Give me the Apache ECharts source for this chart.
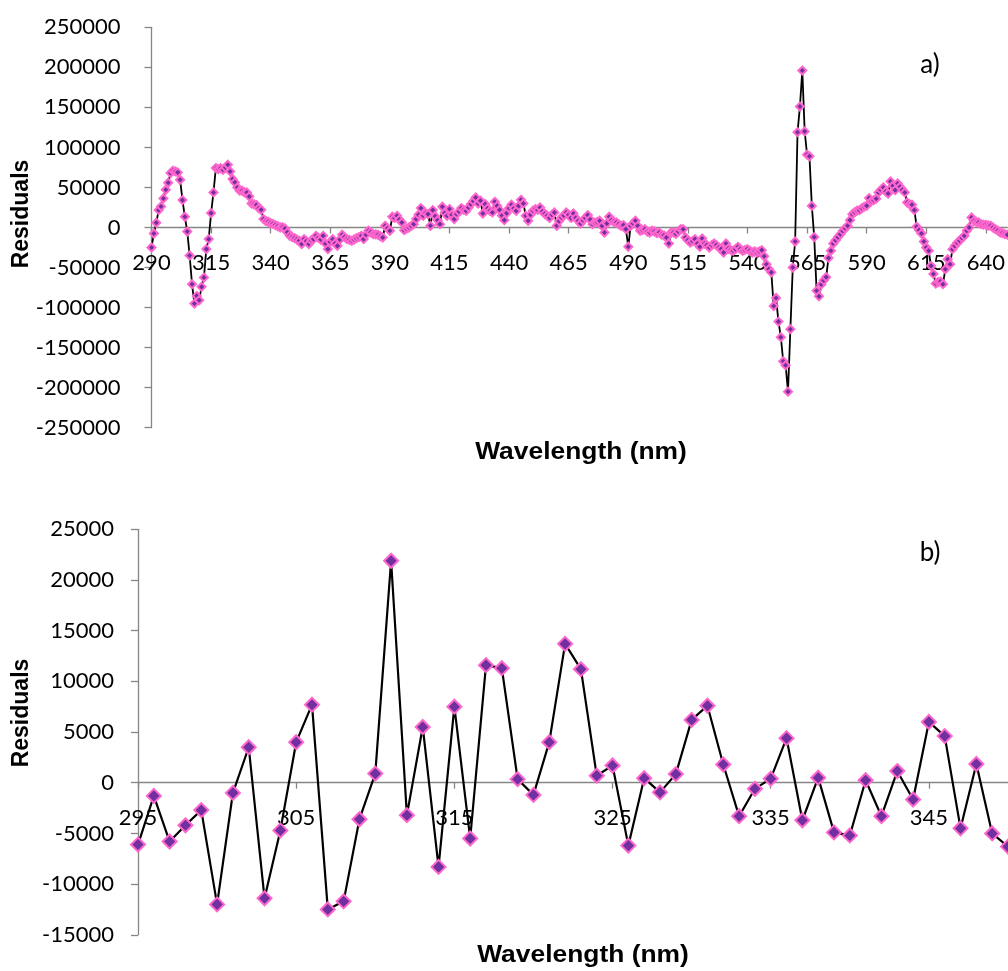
<!DOCTYPE html>
<html>
<head>
<meta charset="utf-8">
<script src="https://cdn.jsdelivr.net/npm/echarts@6/dist/echarts.min.js"></script>
<style>html,body{margin:0;padding:0;background:#fff;}#c{width:1008px;height:971px;}</style>
</head>
<body>
<div id="c"></div>
<script>
// ---- Panel a) : wavelengths 290..649 nm, 1 nm step ----
var wavelengthsA = [];
for (var w = 290; w <= 649; w++) wavelengthsA.push(String(w));
var residualsA = [
-25000,-7500,5900,21700,26300,36300,47100,55900,68000,71000,
70000,68800,59600,34200,13400,-5000,-35000,-70800,-95000,-85400,
-90800,-74100,-62500,-27000,-14500,18000,43800,74200,73000,74000,
72100,75000,78400,70000,60500,56300,50000,46000,45900,44000,
43800,38800,30000,29000,28000,24000,22100,10500,8000,7100,
5500,4500,3000,1500,0,500,-1200,-6000,-10400,-12000,
-13200,-15000,-16600,-20700,-14500,-17000,-20700,-16000,-14500,-10400,
-13000,-15000,-10400,-20000,-27000,-18000,-14600,-20000,-22900,-15000,
-9100,-12000,-14500,-15500,-16600,-15000,-13300,-12000,-10400,-14500,
-9000,-4100,-6000,-8300,-8500,-9100,-11000,-12500,2100,-1000,
-4100,13400,12000,14600,10000,6300,-3300,-1500,0,2000,
4200,10500,16000,24200,14600,18000,16700,2100,21700,14000,
9000,4200,25900,18000,14600,23000,16000,10500,16700,20000,
24200,22000,20800,25000,29200,33000,37500,30000,33400,17500,
29200,24000,20800,18800,32100,27000,22000,15000,9200,18000,
24000,28400,24000,20800,27000,34600,30000,14600,8400,16000,
21000,23000,22000,25000,20000,17000,14600,12000,16000,18800,
2100,8000,12500,15000,18800,16000,12000,17500,12000,8400,
5000,9000,12000,15500,10000,4200,6000,7000,8400,2000,
-6200,5000,13400,9000,7000,6300,4000,2100,3000,-2000,
-24000,2100,5000,8400,2000,-4100,-3000,-2000,-5000,-6200,
-4000,-5000,-7000,-6200,-9000,-10000,-12500,-20000,-6200,-6200,
-8000,-5000,-2000,-2100,-12500,-16000,-18800,-17000,-14500,-20000,
-24000,-13700,-20000,-22000,-25000,-22000,-20000,-22000,-25000,-27000,
-31200,-20000,-26200,-28000,-29100,-27000,-24100,-27000,-29100,-28000,
-27000,-29000,-31200,-30000,-31200,-30000,-28300,-36000,-46000,-52000,
-56000,-98000,-88000,-117500,-137000,-167000,-172000,-205000,-127000,-50000,
-17500,119000,151000,196000,120000,91000,89000,27000,-12000,-79000,
-86000,-71000,-66000,-62000,-38000,-29000,-20000,-15800,-12000,-8300,
-4200,-1000,2100,9200,16700,19000,21000,21700,24000,26000,
27100,36700,33000,34200,36000,43800,47000,50000,45000,42500,
57500,52100,46700,55000,50900,47000,43800,31200,29000,28400,
21700,900,-3300,-7500,-17500,-25000,-29100,-47900,-58000,-70000,
-68000,-67500,-70800,-52100,-39600,-45800,-27100,-22900,-19000,-16600,
-13000,-10400,-4100,0,12500,8300,7000,6300,4200,3500,
3300,2500,2100,0,-2100,-4000,-6200,-7000,-8300,-9000
];

// ---- Panel b) : wavelengths 295..350 nm ----
var wavelengthsB = [];
for (var v = 295; v <= 350; v++) wavelengthsB.push(String(v));
var residualsB = [
-6100,-1300,-5800,-4200,-2700,-12000,-1000,3500,-11400,-4700,
4000,7700,-12500,-11700,-3600,900,21900,-3200,5500,-8300,
7500,-5500,11600,11300,350,-1200,4000,13700,11200,700,
1700,-6200,450,-950,850,6200,7600,1800,-3300,-600,
400,4400,-3700,500,-4900,-5200,250,-3300,1150,-1650,
6000,4600,-4500,1850,-5000,-6300
];

var axisGray = '#868686';
var tickFont = 'Lato, "Open Sans", sans-serif';
var titleFont = '"Liberation Sans", Arial, sans-serif';

// zero line sits above the bottom of each plot: move the whole x axis (line, ticks, labels) there
function xAxisCfg(grid, data, every, zeroOffset) {
  return {
    type: 'category', gridIndex: grid, data: data, boundaryGap: false,
    position: 'bottom', offset: zeroOffset,
    axisLine: { show: true, onZero: false, lineStyle: { color: axisGray, width: 1.3 } },
    axisTick: { show: true, interval: every - 1, length: 6, lineStyle: { color: axisGray, width: 1.3 } },
    axisLabel: { interval: every - 1, margin: 24, color: '#000', fontFamily: tickFont, fontSize: 22 },
    splitLine: { show: false }
  };
}
function yAxisCfg(grid, min, max, step, margin) {
  return {
    type: 'value', gridIndex: grid, min: min, max: max, interval: step,
    axisLine: { show: true, lineStyle: { color: axisGray, width: 1.3 } },
    axisTick: { show: true, length: 7, lineStyle: { color: axisGray, width: 1.3 } },
    axisLabel: { margin: margin, color: '#000', fontFamily: tickFont, fontSize: 22,
                 formatter: function (val) { return String(val); } },
    splitLine: { show: false }
  };
}

var chart = echarts.init(document.getElementById('c'), null, { renderer: 'canvas' });
chart.setOption({
  animation: false,
  backgroundColor: '#fff',
  grid: [
    { left: 151.5, top: 27.3, width: 856.6, height: 400.4 },
    { left: 138, top: 529.3, width: 872.4, height: 405.5 }
  ],
  xAxis: [ xAxisCfg(0, wavelengthsA, 25, -200.2), xAxisCfg(1, wavelengthsB, 10, -152.1) ],
  yAxis: [ yAxisCfg(0, -250000, 250000, 50000, 31), yAxisCfg(1, -15000, 25000, 5000, 24) ],
  series: [
    {
      type: 'line', xAxisIndex: 0, yAxisIndex: 0, data: residualsA,
      symbol: 'diamond', symbolSize: 8, showAllSymbol: true,
      lineStyle: { color: '#000', width: 1.8 },
      itemStyle: { color: '#7030A0', borderColor: '#FF66CC', borderWidth: 2 }
    },
    {
      type: 'line', xAxisIndex: 1, yAxisIndex: 1, data: residualsB,
      symbol: 'diamond', symbolSize: 14, showAllSymbol: true,
      lineStyle: { color: '#000', width: 2.2 },
      itemStyle: { color: '#7030A0', borderColor: '#FF66CC', borderWidth: 2 }
    }
  ],
  graphic: [
    { type: 'text', x: 930, y: 65, style: { text: 'a)', fontFamily: tickFont, fontSize: 26, fill: '#000', textAlign: 'center', textVerticalAlign: 'middle' } },
    { type: 'text', x: 930, y: 553, style: { text: 'b)', fontFamily: tickFont, fontSize: 26, fill: '#000', textAlign: 'center', textVerticalAlign: 'middle' } },
    { type: 'text', x: 581, y: 452, scaleX: 1.1, style: { text: 'Wavelength (nm)', fontFamily: titleFont, fontWeight: 'bold', fontSize: 24, fill: '#000', textAlign: 'center', textVerticalAlign: 'middle' } },
    { type: 'text', x: 583, y: 955, scaleX: 1.1, style: { text: 'Wavelength (nm)', fontFamily: titleFont, fontWeight: 'bold', fontSize: 24, fill: '#000', textAlign: 'center', textVerticalAlign: 'middle' } },
    { type: 'text', x: 22, y: 214, rotation: Math.PI / 2, style: { text: 'Residuals', fontFamily: titleFont, fontWeight: 'bold', fontSize: 23, fill: '#000', textAlign: 'center', textVerticalAlign: 'middle' } },
    { type: 'text', x: 22, y: 713, rotation: Math.PI / 2, style: { text: 'Residuals', fontFamily: titleFont, fontWeight: 'bold', fontSize: 23, fill: '#000', textAlign: 'center', textVerticalAlign: 'middle' } }
  ]
});
</script>
</body>
</html>
